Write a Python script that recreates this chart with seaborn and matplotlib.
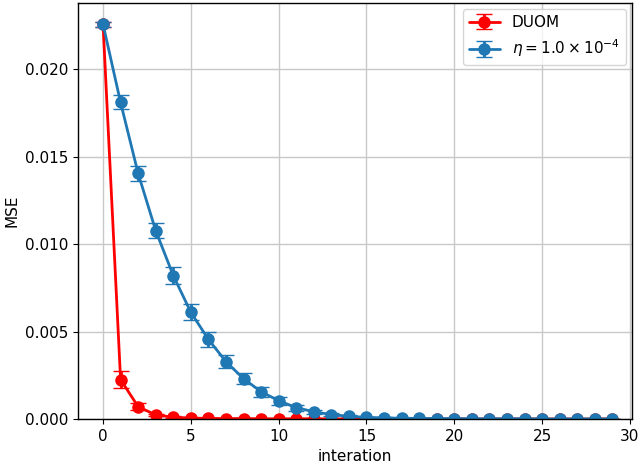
import matplotlib
matplotlib.use("Agg")
import matplotlib.pyplot as plt
import numpy as np
import seaborn as sns

# values
iterations = np.arange(30)
duom_mse = [0.02258, 0.00225, 0.00070, 0.00023, 0.00010, 0.00005, 0.00003, 0.00002,
            0.00002, 0.00001, 0.00001, 0.00001, 0.00001, 0.0, 0.0, 0.0, 0.0, 0.0,
            0.0, 0.0, 0.0, 0.0, 0.0, 0.0, 0.0, 0.0, 0.0, 0.0, 0.0, 0.0]
duom_err = [0.00015, 0.00050, 0.00020, 0.00008, 0.00004, 0.00002, 0.00001, 0.00001,
            0.00001, 0.0, 0.0, 0.0, 0.0, 0.0, 0.0, 0.0, 0.0, 0.0,
            0.0, 0.0, 0.0, 0.0, 0.0, 0.0, 0.0, 0.0, 0.0, 0.0, 0.0, 0.0]
eta_mse = [0.02258, 0.01810, 0.01404, 0.01077, 0.00820, 0.00610, 0.00455, 0.00328,
           0.00230, 0.00156, 0.00104, 0.00065, 0.00041, 0.00025, 0.00015, 0.00009,
           0.00006, 0.00004, 0.00003, 0.00002, 0.00002, 0.00001, 0.00001, 0.00001,
           0.00001, 0.0, 0.0, 0.0, 0.0, 0.0]
eta_err = [0.00015, 0.00040, 0.00045, 0.00045, 0.00047, 0.00045, 0.00042, 0.00038,
           0.00033, 0.00028, 0.00022, 0.00017, 0.00012, 0.00009, 0.00006, 0.00004,
           0.00003, 0.00002, 0.00001, 0.00001, 0.00001, 0.0, 0.0, 0.0,
           0.0, 0.0, 0.0, 0.0, 0.0, 0.0]

sns.set_style("ticks", {"axes.grid": True, "axes.edgecolor": "black",
                        "grid.color": "#c8c8c8", "xtick.color": "black",
                        "ytick.color": "black", "axes.labelcolor": "black",
                        "text.color": "black"})
plt.rcParams['font.family'] = ['DejaVu Sans']
plt.rcParams['font.size'] = 11
blue = sns.color_palette("tab10")[0]

fig, ax = plt.subplots(figsize=(6.4, 4.66), dpi=100)
ax.errorbar(iterations, duom_mse, yerr=duom_err, color="red", marker="o",
            markersize=8, linewidth=2, capsize=6, label="DUOM")
ax.errorbar(iterations, eta_mse, yerr=eta_err, color=blue, marker="o",
            markersize=8, linewidth=2, capsize=6,
            label=r"$\eta = 1.0 \times 10^{-4}$")

ax.set_ylim(0, 0.0238)
ax.set_xlim(-1.42, 30.12)
ax.set_xlabel("interation", fontsize=11)
ax.set_ylabel("MSE", fontsize=11)
ax.tick_params(labelsize=11)
ax.grid(True, color="#c8c8c8", linewidth=1)
ax.legend(loc="upper right", fontsize=11, borderaxespad=0.4)
for s in ax.spines.values():
    s.set_linewidth(1)

fig.subplots_adjust(left=0.122, right=0.9875, top=0.994, bottom=0.101)
fig.savefig("out.png", dpi=100)
